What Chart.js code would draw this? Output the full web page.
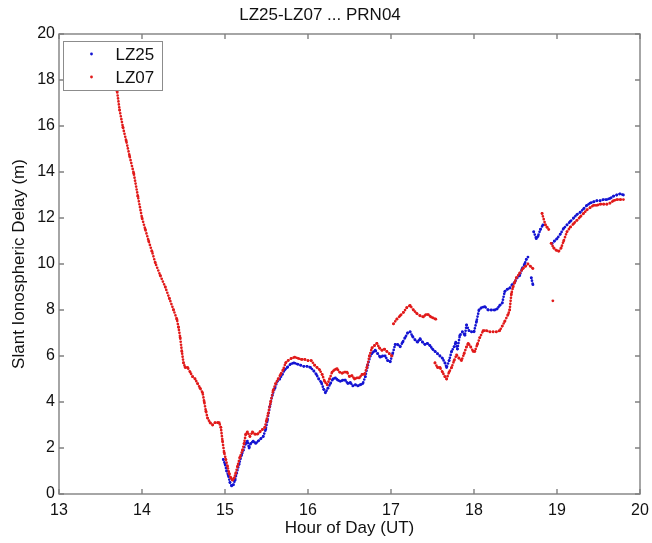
<!DOCTYPE html>
<html>
<head>
<meta charset="utf-8">
<script src="https://cdn.jsdelivr.net/npm/chart.js@4.4.1/dist/chart.umd.min.js"></script>
<style>
  html, body { margin: 0; padding: 0; background: #fff; }
  #wrap { width: 652px; height: 543px; }
</style>
</head>
<body>
<div id="wrap"><canvas id="chart" width="652" height="543"></canvas></div>
<script>
const hourTicks = [13, 14, 15, 16, 17, 18, 19, 20];
const delayTicks = [0, 2, 4, 6, 8, 10, 12, 14, 16, 18, 20];

// LZ25 arcs, [hour UT, slant delay m]
const lz25Arc1 = [
  [14.98, 1.5], [15.00, 1.3], [15.02, 1.0], [15.04, 0.8], [15.06, 0.5], [15.08, 0.35], [15.10, 0.4],
  [15.12, 0.6], [15.14, 0.9], [15.17, 1.3], [15.20, 1.7], [15.22, 1.9], [15.25, 2.2], [15.27, 2.3],
  [15.29, 2.0], [15.31, 2.2], [15.34, 2.3], [15.37, 2.2], [15.40, 2.3], [15.43, 2.4], [15.46, 2.5],
  [15.49, 2.8], [15.51, 3.2], [15.54, 3.8], [15.57, 4.3], [15.60, 4.6], [15.63, 4.9], [15.66, 5.0],
  [15.69, 5.2], [15.72, 5.4], [15.75, 5.5], [15.79, 5.65], [15.83, 5.7], [15.87, 5.65], [15.91, 5.6],
  [15.95, 5.55], [15.99, 5.55], [16.03, 5.5], [16.07, 5.35], [16.10, 5.2], [16.13, 5.0], [16.16, 4.85],
  [16.19, 4.55], [16.21, 4.4], [16.24, 4.6], [16.27, 4.8], [16.30, 5.0], [16.33, 5.05], [16.36, 4.95],
  [16.39, 4.9], [16.42, 4.95], [16.45, 4.95], [16.48, 4.8], [16.51, 4.85], [16.54, 4.7], [16.57, 4.75],
  [16.60, 4.7], [16.63, 4.75], [16.66, 4.8], [16.69, 5.1], [16.72, 5.6], [16.75, 6.0], [16.78, 6.15],
  [16.81, 6.25], [16.84, 6.1], [16.87, 5.95], [16.90, 6.0], [16.93, 6.0], [16.96, 5.8], [16.99, 5.75],
  [17.02, 6.1], [17.05, 6.5], [17.08, 6.5], [17.11, 6.4], [17.14, 6.6], [17.17, 6.8], [17.20, 7.0],
  [17.23, 7.05], [17.26, 6.85], [17.29, 6.7], [17.32, 6.6], [17.35, 6.75], [17.38, 6.6], [17.41, 6.5],
  [17.44, 6.55], [17.47, 6.45], [17.50, 6.3], [17.53, 6.2], [17.56, 6.1], [17.59, 6.0], [17.62, 5.9],
  [17.65, 5.7], [17.67, 5.5], [17.70, 5.8], [17.73, 6.2], [17.76, 6.4], [17.78, 6.6], [17.80, 6.3],
  [17.83, 6.9], [17.86, 7.05], [17.89, 6.9], [17.91, 7.35], [17.94, 7.1], [17.97, 7.05], [18.00, 7.05],
  [18.03, 7.5], [18.06, 8.0], [18.09, 8.1], [18.13, 8.15], [18.17, 8.0], [18.21, 8.0], [18.25, 8.0],
  [18.28, 8.05], [18.31, 8.2], [18.34, 8.3], [18.37, 8.8], [18.40, 8.9], [18.43, 8.95], [18.46, 9.1],
  [18.49, 9.2], [18.52, 9.4], [18.55, 9.5], [18.58, 9.8], [18.61, 10.0], [18.63, 10.2], [18.65, 10.3]
];
const lz25Arc2 = [[18.69, 9.4], [18.71, 9.1]];
const lz25Arc3 = [[18.72, 11.4], [18.75, 11.1], [18.77, 11.2], [18.80, 11.5], [18.83, 11.7]];
const lz25Arc4 = [
  [18.94, 10.9], [18.97, 11.0], [19.00, 11.1], [19.04, 11.3], [19.08, 11.55], [19.12, 11.7],
  [19.16, 11.85], [19.20, 12.0], [19.24, 12.15], [19.28, 12.25], [19.32, 12.4], [19.36, 12.55],
  [19.40, 12.65], [19.44, 12.7], [19.48, 12.75], [19.52, 12.75], [19.56, 12.8], [19.60, 12.8],
  [19.64, 12.85], [19.68, 12.95], [19.72, 13.0], [19.76, 13.05], [19.80, 13.0]
];

// LZ07 arcs
const lz07Arc1 = [
  [13.64, 19.4], [13.67, 18.5], [13.70, 17.5], [13.73, 16.7], [13.77, 15.95], [13.81, 15.35],
  [13.85, 14.7], [13.90, 13.95], [13.95, 12.95], [14.00, 12.0], [14.04, 11.5], [14.08, 11.0],
  [14.12, 10.55], [14.16, 10.05], [14.22, 9.5], [14.28, 9.0], [14.33, 8.5], [14.38, 8.0], [14.42, 7.6],
  [14.44, 7.25], [14.46, 6.8], [14.48, 6.2], [14.50, 5.7], [14.52, 5.5], [14.55, 5.5], [14.58, 5.3],
  [14.61, 5.1], [14.64, 5.0], [14.67, 4.8], [14.70, 4.6], [14.73, 4.4], [14.75, 4.0], [14.77, 3.6],
  [14.79, 3.3], [14.82, 3.1], [14.85, 3.0], [14.88, 3.1], [14.91, 3.1], [14.93, 3.1], [14.95, 2.9],
  [14.97, 2.3], [14.99, 1.8], [15.01, 1.5], [15.03, 1.2], [15.05, 0.9], [15.07, 0.7], [15.09, 0.6],
  [15.11, 0.7], [15.13, 0.9], [15.15, 1.2], [15.18, 1.6], [15.21, 1.9], [15.23, 2.2], [15.25, 2.6],
  [15.27, 2.7], [15.30, 2.5], [15.33, 2.7], [15.36, 2.6], [15.39, 2.6], [15.42, 2.7], [15.45, 2.8],
  [15.48, 2.9], [15.50, 3.2], [15.52, 3.5], [15.55, 4.0], [15.58, 4.5], [15.61, 4.8], [15.64, 5.0],
  [15.67, 5.2], [15.70, 5.4], [15.73, 5.7], [15.76, 5.8], [15.80, 5.9], [15.84, 5.95], [15.88, 5.9],
  [15.92, 5.85], [15.96, 5.85], [16.00, 5.8], [16.04, 5.8], [16.08, 5.6], [16.11, 5.5], [16.14, 5.4],
  [16.17, 5.2], [16.20, 4.9], [16.23, 4.75], [16.26, 5.0], [16.29, 5.3], [16.32, 5.4], [16.35, 5.45],
  [16.38, 5.3], [16.41, 5.25], [16.44, 5.3], [16.47, 5.3], [16.50, 5.1], [16.53, 5.15], [16.56, 5.0],
  [16.59, 5.05], [16.62, 5.05], [16.65, 5.2], [16.68, 5.2], [16.71, 5.5], [16.74, 6.0], [16.77, 6.35],
  [16.80, 6.45], [16.83, 6.55], [16.86, 6.35], [16.89, 6.25], [16.92, 6.3], [16.95, 6.2], [16.98, 6.1],
  [17.01, 6.0]
];
const lz07Arc2 = [
  [17.03, 7.4], [17.07, 7.6], [17.11, 7.75], [17.15, 7.9], [17.19, 8.1], [17.23, 8.2], [17.27, 8.0],
  [17.31, 7.85], [17.35, 7.75], [17.39, 7.7], [17.42, 7.8], [17.45, 7.8], [17.48, 7.7], [17.51, 7.65],
  [17.54, 7.6]
];
const lz07Arc3 = [
  [17.53, 5.7], [17.56, 5.5], [17.59, 5.5], [17.62, 5.3], [17.65, 5.1], [17.67, 5.0], [17.70, 5.3],
  [17.73, 5.5], [17.76, 5.8], [17.79, 6.05], [17.82, 5.9], [17.85, 5.8], [17.88, 6.1], [17.91, 6.4],
  [17.93, 6.55], [17.96, 6.4], [17.99, 6.2], [18.01, 6.2], [18.04, 6.5], [18.07, 6.8], [18.11, 7.1],
  [18.15, 7.1], [18.19, 7.05], [18.23, 7.05], [18.27, 7.05], [18.31, 7.1], [18.34, 7.3], [18.37, 7.5],
  [18.41, 7.8], [18.43, 8.0], [18.45, 8.7], [18.47, 9.0], [18.49, 9.2], [18.51, 9.4], [18.55, 9.6],
  [18.59, 9.8], [18.62, 9.9], [18.65, 10.0], [18.68, 9.9], [18.71, 9.8]
];
const lz07Arc4 = [[18.82, 12.2], [18.86, 11.7], [18.88, 11.6], [18.90, 11.5]];
const lz07Arc5 = [[18.95, 8.4]];
const lz07Arc6 = [
  [18.93, 10.9], [18.96, 10.7], [18.99, 10.6], [19.02, 10.55], [19.05, 10.7], [19.08, 11.0],
  [19.12, 11.4], [19.16, 11.6], [19.20, 11.75], [19.24, 11.9], [19.28, 12.05], [19.32, 12.2],
  [19.36, 12.35], [19.40, 12.45], [19.44, 12.55], [19.48, 12.55], [19.52, 12.6], [19.56, 12.6],
  [19.60, 12.6], [19.64, 12.65], [19.68, 12.75], [19.72, 12.8], [19.76, 12.8], [19.80, 12.8]
];

const lz25Arcs = [lz25Arc1, lz25Arc2, lz25Arc3, lz25Arc4];
const lz07Arcs = [lz07Arc1, lz07Arc2, lz07Arc3, lz07Arc4, lz07Arc5, lz07Arc6];

const BLUE = '#1414d2';
const RED = '#e11a1a';
const FONT = '"Liberation Sans", Arial, Helvetica, sans-serif';

// null between arcs so the dotted line breaks there
function toPoints(arcs) {
  const pts = [];
  arcs.forEach((arc, i) => {
    if (i > 0) pts.push({ x: arc[0][0], y: null });
    arc.forEach(([x, y]) => pts.push({ x, y }));
  });
  return pts;
}

function dotted(label, arcs, color, order) {
  return {
    label,
    data: toPoints(arcs),
    order,
    showLine: true,
    spanGaps: false,
    borderColor: color,
    borderWidth: 2.7,
    borderDash: [0, 3],
    borderCapStyle: 'round',
    pointRadius: 1.4,
    pointBorderWidth: 0,
    pointBackgroundColor: color,
  };
}

// matlab style box, inward ticks, legend inside the axes
const axesBox = {
  id: 'axesBox',
  afterDatasetsDraw(chart) {
    const { ctx, chartArea: a, scales: { x, y } } = chart;
    ctx.save();
    ctx.strokeStyle = '#808080';
    ctx.lineWidth = 1.4;
    ctx.strokeRect(a.left, a.top, a.right - a.left, a.bottom - a.top);
    ctx.beginPath();
    hourTicks.forEach(h => {
      const px = x.getPixelForValue(h);
      ctx.moveTo(px, a.bottom); ctx.lineTo(px, a.bottom - 5);
      ctx.moveTo(px, a.top); ctx.lineTo(px, a.top + 5);
    });
    delayTicks.forEach(d => {
      const py = y.getPixelForValue(d);
      ctx.moveTo(a.left, py); ctx.lineTo(a.left + 5, py);
      ctx.moveTo(a.right, py); ctx.lineTo(a.right - 5, py);
    });
    ctx.stroke();

    const bx = a.left + 4.5, by = a.top + 7.5, bw = 99, bh = 49;
    ctx.fillStyle = '#fff';
    ctx.fillRect(bx, by, bw, bh);
    ctx.lineWidth = 1;
    ctx.strokeStyle = '#8c8c8c';
    ctx.strokeRect(bx, by, bw, bh);
    ctx.font = '17px ' + FONT;
    ctx.textBaseline = 'middle';
    chart.data.datasets.forEach((ds, i) => {
      const ry = by + 12.5 + i * 23;
      ctx.fillStyle = ds.borderColor;
      ctx.beginPath();
      ctx.arc(bx + 28, ry, 1.4, 0, Math.PI * 2);
      ctx.fill();
      ctx.fillStyle = '#111';
      ctx.fillText(ds.label, bx + 52, ry + 1);
    });
    ctx.restore();
  }
};

new Chart(document.getElementById('chart'), {
  type: 'scatter',
  data: {
    datasets: [
      dotted('LZ25', lz25Arcs, BLUE, 2),
      dotted('LZ07', lz07Arcs, RED, 1),
    ],
  },
  options: {
    responsive: false,
    animation: false,
    layout: { padding: { left: 0, right: 12, top: 0, bottom: 0 } },
    plugins: {
      legend: { display: false },
      tooltip: { enabled: false },
      title: {
        display: true,
        text: 'LZ25-LZ07 ... PRN04',
        color: '#111',
        font: { family: FONT, size: 17, weight: 'normal' },
        padding: { top: 5, bottom: 8.6 },
      },
    },
    scales: {
      x: {
        type: 'linear',
        min: 13,
        max: 20,
        afterBuildTicks: s => { s.ticks = hourTicks.map(v => ({ value: v })); },
        afterFit: s => { s.height = 49; s.paddingLeft = 0; s.paddingRight = 0; },
        grid: { display: false, drawTicks: false },
        border: { display: false },
        ticks: { color: '#111', padding: 7, maxRotation: 0, font: { family: FONT, size: 16 } },
        title: {
          display: true,
          text: 'Hour of Day (UT)',
          color: '#111',
          font: { family: FONT, size: 17 },
          padding: { top: 0, bottom: 4 },
        },
      },
      y: {
        type: 'linear',
        min: 0,
        max: 20,
        afterBuildTicks: s => { s.ticks = delayTicks.map(v => ({ value: v })); },
        afterFit: s => { s.width = 59; },
        grid: { display: false, drawTicks: false },
        border: { display: false },
        ticks: { color: '#111', padding: 4, font: { family: FONT, size: 16 } },
        title: {
          display: true,
          text: 'Slant Ionospheric Delay (m)',
          color: '#111',
          font: { family: FONT, size: 17 },
          padding: { top: 9, bottom: 0 },
        },
      },
    },
  },
  plugins: [axesBox],
});
</script>
</body>
</html>
